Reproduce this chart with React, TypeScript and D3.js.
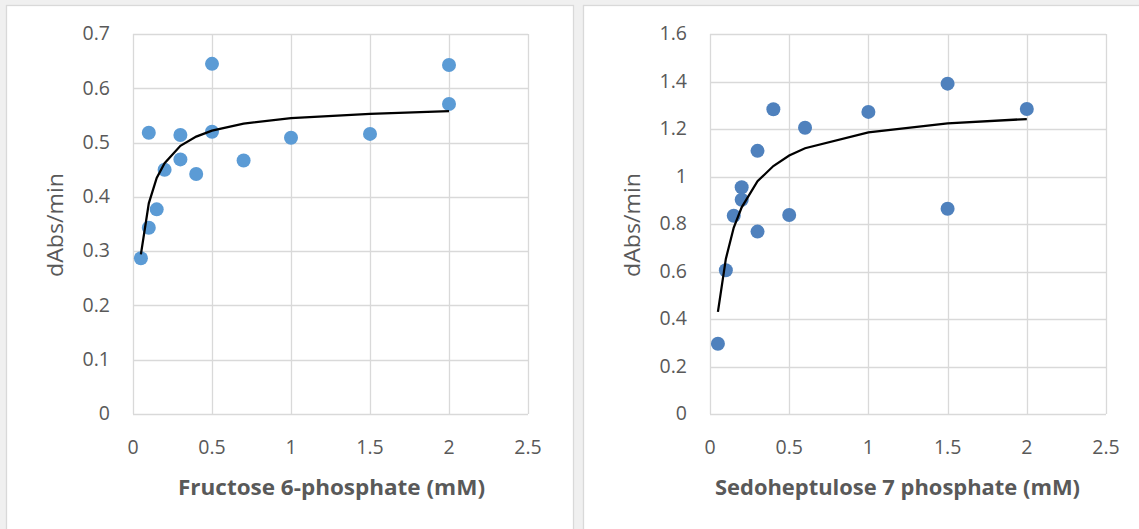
import React from 'react';
import * as d3 from 'd3';

// Fructose 6-phosphate panel
const f6pX = [0.05, 0.1, 0.15, 0.1, 0.2, 0.3, 0.3, 0.4, 0.5, 0.5, 0.7, 1, 1.5, 2, 2];
const f6pY = [0.287, 0.343, 0.377, 0.518, 0.45, 0.514, 0.469, 0.442, 0.645, 0.52, 0.467, 0.509, 0.516, 0.643, 0.571];
const f6pFitX = [0.05, 0.1, 0.15, 0.2, 0.3, 0.4, 0.5, 0.7, 1, 1.5, 2];
const f6pFitY = [0.294, 0.388, 0.435, 0.462, 0.494, 0.511, 0.522, 0.535, 0.545, 0.553, 0.558];
const f6pYTicks = [0, 0.1, 0.2, 0.3, 0.4, 0.5, 0.6, 0.7];

// Sedoheptulose 7 phosphate panel
const s7pX = [0.05, 0.1, 0.15, 0.2, 0.2, 0.3, 0.3, 0.4, 0.5, 0.6, 1, 1.5, 1.5, 2];
const s7pY = [0.296, 0.605, 0.835, 0.955, 0.902, 1.108, 0.768, 1.283, 0.838, 1.205, 1.272, 1.391, 0.864, 1.284];
const s7pFitX = [0.05, 0.1, 0.15, 0.2, 0.3, 0.4, 0.5, 0.6, 1, 1.5, 2];
const s7pFitY = [0.43, 0.653, 0.785, 0.87, 0.98, 1.044, 1.088, 1.119, 1.186, 1.224, 1.242];
const s7pYTicks = [0, 0.2, 0.4, 0.6, 0.8, 1, 1.2, 1.4, 1.6];

const xTicks = [0, 0.5, 1, 1.5, 2, 2.5];

const W = 1139;
const H = 529;
const font = "'Open Sans', 'Noto Sans', sans-serif";
const textColor = '#595959';
const gridColor = '#d9d9d9';

type PanelProps = {
  boxX: number;
  boxW: number;
  left: number;
  right: number;
  yMax: number;
  yTicks: number[];
  xs: number[];
  ys: number[];
  fitX: number[];
  fitY: number[];
  color: string;
  title: string;
  titleX: number;
  titleLen: number;
};

function Panel({ boxX, boxW, left, right, yMax, yTicks, xs, ys, fitX, fitY, color, title, titleX, titleLen }: PanelProps) {
  const top = 34;
  const bottom = 414;
  const x = d3.scaleLinear().domain([0, 2.5]).range([left, right]);
  const y = d3.scaleLinear().domain([0, yMax]).range([bottom, top]);
  const line = d3.line<number>().x((d, i) => x(fitX[i])).y(d => y(d));

  return (
    <g>
      <rect x={boxX + 0.5} y={5.5} width={boxW} height={H + 10} fill="#fff" stroke={gridColor} strokeWidth={1.3} />
      {yTicks.map(t => (
        <line key={'gy' + t} x1={left} x2={right} y1={Math.round(y(t)) + 0.5} y2={Math.round(y(t)) + 0.5} stroke={gridColor} strokeWidth={1.3} />
      ))}
      {xTicks.map(t => (
        <line key={'gx' + t} x1={Math.round(x(t)) + 0.5} x2={Math.round(x(t)) + 0.5} y1={top} y2={bottom} stroke={gridColor} strokeWidth={1.3} />
      ))}
      {yTicks.map(t => (
        <text key={'ty' + t} x={left - 23} y={y(t) + 1} textAnchor="end" dominantBaseline="middle"
          fontFamily={font} fontSize={19.5} fill={textColor}>{String(t)}</text>
      ))}
      {xTicks.map(t => (
        <text key={'tx' + t} x={x(t)} y={454} textAnchor="middle"
          fontFamily={font} fontSize={19.5} fill={textColor}>{String(t)}</text>
      ))}
      {xs.map((d, i) => (
        <circle key={'p' + i} cx={x(d)} cy={y(ys[i])} r={7} fill={color} />
      ))}
      <path d={line(fitY) || ''} fill="none" stroke="#000" strokeWidth={2.25} />
      <text x={titleX} y={495} textAnchor="middle" fontFamily={font} fontWeight="bold"
        fontSize={21.5} fill={textColor} textLength={titleLen} lengthAdjust="spacingAndGlyphs">{title}</text>
      <text transform={`translate(${left - 76},225) rotate(-90)`} textAnchor="middle" dominantBaseline="middle"
        fontFamily={font} fontSize={21} fill={textColor} textLength={104} lengthAdjust="spacingAndGlyphs">dAbs/min</text>
    </g>
  );
}

export default function App() {
  return (
    <svg width={W} height={H} style={{ position: 'absolute', left: 0, top: 0, display: 'block' }}>
      <rect width={W} height={H} fill="#f0f0f0" />
      <Panel boxX={6} boxW={567} left={133} right={528} yMax={0.7} yTicks={f6pYTicks}
        xs={f6pX} ys={f6pY} fitX={f6pFitX} fitY={f6pFitY} color="#5b9bd5"
        title="Fructose 6-phosphate (mM)" titleX={331.5} titleLen={307} />
      <Panel boxX={583} boxW={600} left={710} right={1106} yMax={1.6} yTicks={s7pYTicks}
        xs={s7pX} ys={s7pY} fitX={s7pFitX} fitY={s7pFitY} color="#4f81bd"
        title="Sedoheptulose 7 phosphate (mM)" titleX={897.5} titleLen={365} />
    </svg>
  );
}
